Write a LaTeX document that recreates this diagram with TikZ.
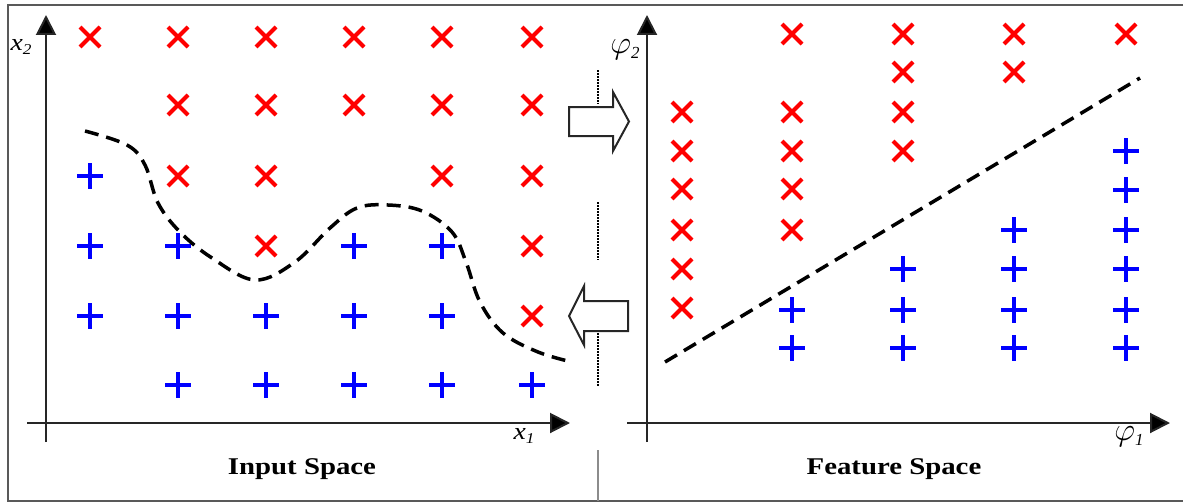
\documentclass[tikz,border=0pt]{standalone}
\usepackage{fontspec}
\setmainfont{Liberation Serif}
\usetikzlibrary{shapes.misc,arrows.meta}
\begin{document}
\begin{tikzpicture}[x=1pt,y=-1pt,
  frameline/.style={line width=2pt, draw=black!65},
  axisline/.style={line width=2pt, draw=black!85, -{Triangle[length=20pt,width=20pt,fill=black]}},
  crossmark/.style={cross out, draw=red, line width=4pt, minimum size=16pt, inner sep=0pt},
  plusmark/.style={rectangle, minimum size=26pt, inner sep=0pt,
    path picture={\draw[blue, line width=3.5pt]
      (path picture bounding box.north) -- (path picture bounding box.south)
      (path picture bounding box.west) -- (path picture bounding box.east);}},
  boundary/.style={line width=3.5pt, dash pattern=on 14pt off 8pt, black},
  hollowarrow/.style={line width=2pt, draw=black!85, fill=white, line join=miter},
  divider/.style={line width=2.5pt, draw=black, dash pattern=on 1.6pt off 1.4pt},
  axlabel/.style={inner sep=0pt, font=\fontsize{24}{26}\selectfont\itshape},
  title/.style={inner sep=0pt, font=\fontsize{24}{26}\selectfont\bfseries}
]
\useasboundingbox (0,0) rectangle (1185,503);
% frame
\draw[frameline] (1183,5) -- (8,5) -- (8,501) -- (1183,501);
% divider
\draw[divider] (598,70) -- (598,104);
\draw[divider] (598,202) -- (598,260);
\draw[divider] (598,330) -- (598,386);
\draw[line width=2.5pt, draw=black!45] (598,450) -- (598,501);

% left axes
\coordinate (ly0) at (46,442);
\coordinate (ly1) at (46,15);
\coordinate (lx0) at (27,423);
\coordinate (lx1) at (570,423);
\draw[axisline] (ly0) -- (ly1);
\draw[axisline] (lx0) -- (lx1);
\node[axlabel] (lx2lab) at (21,47) {\scalebox{1.15}[1]{x\raisebox{-0.35ex}{\fontsize{15}{16}\selectfont 2}}};
\node[axlabel] (lx1lab) at (524,436) {\scalebox{1.15}[1]{x\raisebox{-0.35ex}{\fontsize{15}{16}\selectfont 1}}};

% right axes
\coordinate (ry0) at (647,442);
\coordinate (ry1) at (647,15);
\coordinate (rx0) at (627,423);
\coordinate (rx1) at (1170,423);
\draw[axisline] (ry0) -- (ry1);
\draw[axisline] (rx0) -- (rx1);
\node[axlabel] (rp2lab) at (625,50) {\scalebox{1.3}{$\varphi$\raisebox{-0.35ex}{\fontsize{13}{14}\selectfont 2}}};
\node[axlabel] (rp1lab) at (1129,437) {\scalebox{1.3}{$\varphi$\raisebox{-0.35ex}{\fontsize{13}{14}\selectfont 1}}};

% left markers
\foreach \px/\py [count=\i] in {90/37,178/37,266/37,354/37,442/37,532/37,
  178/105,266/105,354/105,442/105,532/105,
  178/176,266/176,442/176,532/176,
  266/246,532/246,532/316}
  \node[crossmark] (lc\i) at (\px,\py) {};
\foreach \px/\py [count=\i] in {90/176,90/246,178/246,354/246,442/246,
  90/316,178/316,266/316,354/316,442/316,
  178/385,266/385,354/385,442/385,532/385}
  \node[plusmark] (lp\i) at (\px,\py) {};

% right markers
\foreach \px/\py [count=\i] in {682/112,682/151,682/189,682/230,682/269,682/308,
  792/34,792/112,792/151,792/189,792/230,
  903/34,903/72,903/112,903/151,
  1014/34,1014/72,1126/34}
  \node[crossmark] (rc\i) at (\px,\py) {};
\foreach \px/\py [count=\i] in {792/310,792/348,
  903/269,903/310,903/348,
  1014/230,1014/269,1014/310,1014/348,
  1126/151,1126/190,1126/230,1126/269,1126/310,1126/348}
  \node[plusmark] (rp\i) at (\px,\py) {};

% boundaries
\draw[boundary] plot[smooth, tension=0.6] coordinates {(85,131) (127,145) (145,165) (158,203) (180,232) (212,258) (255,280) (295,262) (330,228) (357,208) (388,205) (422,211) (452,232) (466,262) (480,302) (503,333) (538,352) (572,362)};
\coordinate (fb0) at (665,362);
\coordinate (fb1) at (1140,78);
\draw[boundary] (fb0) -- (fb1);

% hollow arrows
\draw[hollowarrow] (569,107) -- (613,107) -- (613,92) -- (629,121.5) -- (613,151) -- (613,136) -- (569,136) -- cycle;
\draw[hollowarrow] (628,301) -- (584,301) -- (584,286) -- (569,316) -- (584,345) -- (584,331) -- (628,331) -- cycle;

% titles
\node[title] (t1) at (302,469) {\scalebox{1.2}[1]{Input Space}};
\node[title] (t2) at (894,469) {\scalebox{1.2}[1]{Feature Space}};
\end{tikzpicture}
\end{document}
